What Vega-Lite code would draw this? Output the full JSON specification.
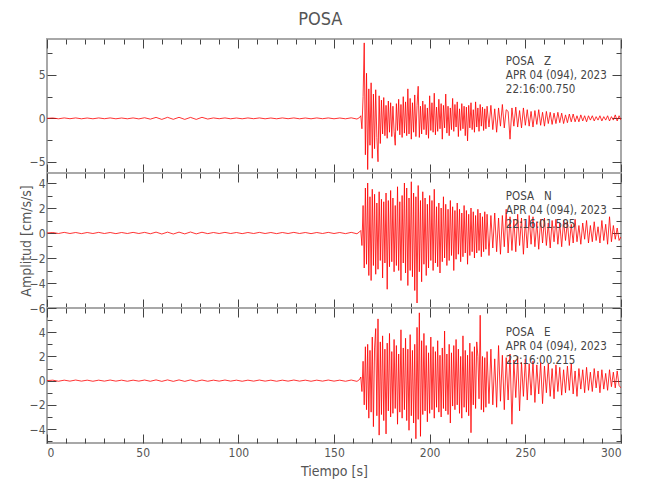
{
"$schema": "https://vega.github.io/schema/vega-lite/v6.json",
"padding": {"left": 18, "top": 10, "right": 5, "bottom": 5},
"background": "white",
"title": {"text": "POSA", "fontSize": 18, "font": "DejaVu Sans Condensed, Liberation Sans, sans-serif", "fontWeight": "normal", "color": "#555", "offset": 9, "anchor": "middle"},
"config": {
 "font": "DejaVu Sans Condensed, Liberation Sans, sans-serif",
 "view": {"stroke": "#a8a8a8", "strokeWidth": 2},
 "axis": {"domain": false, "grid": false, "labelFont": "DejaVu Sans Condensed, Liberation Sans, sans-serif", "labelFontSize": 12, "labelColor": "#555", "tickColor": "#444", "titleFont": "DejaVu Sans Condensed, Liberation Sans, sans-serif", "titleFontSize": 14, "titleFontWeight": "normal", "titleColor": "#555"}
},
"spacing": 0,
"bounds": "flush",
"datasets": {
"z": [
{"t":0,"a":0},{"t":3,"a":0.04},{"t":6,"a":-0.05},{"t":9,"a":0.05},{"t":12,"a":-0.04},{"t":15,"a":0.05},{"t":18,"a":-0.05},{"t":21,"a":0.04},{"t":24,"a":-0.05},{"t":27,"a":0.05},{"t":30,"a":-0.04},{"t":33,"a":0.05},{"t":36,"a":-0.05},{"t":39,"a":0.04},{"t":42,"a":-0.05},{"t":45,"a":0.05},{"t":48,"a":-0.06},{"t":51,"a":0.07},{"t":54,"a":-0.09},{"t":57,"a":0.11},{"t":60,"a":-0.12},{"t":63,"a":0.12},{"t":66,"a":-0.11},{"t":69,"a":0.12},{"t":72,"a":-0.12},{"t":75,"a":0.11},{"t":78,"a":-0.12},{"t":81,"a":0.12},{"t":84,"a":-0.08},{"t":87,"a":0.05},{"t":90,"a":-0.04},{"t":93,"a":0.05},{"t":96,"a":-0.05},{"t":99,"a":0.04},{"t":102,"a":-0.05},{"t":105,"a":0.05},{"t":108,"a":-0.04},{"t":111,"a":0.05},{"t":114,"a":-0.05},{"t":117,"a":0.04},{"t":120,"a":-0.05},{"t":123,"a":0.05},{"t":126,"a":-0.04},{"t":129,"a":0.05},{"t":132,"a":-0.05},{"t":135,"a":0.04},{"t":138,"a":-0.05},{"t":141,"a":0.05},{"t":144,"a":-0.04},{"t":147,"a":0.05},{"t":150,"a":-0.05},{"t":153,"a":0.04},{"t":156,"a":-0.05},{"t":159,"a":0.06},{"t":162,"a":-0.08},{"t":163.4,"a":0.1},
{"t":164.0,"a":0.3},{"t":164.6,"a":-1.2},{"t":165.2,"a":2.5},{"t":165.8,"a":8.7},{"t":166.4,"a":-4.2},{"t":167.0,"a":5.2},{"t":167.6,"a":-5.9},{"t":168.2,"a":3.4},{"t":168.8,"a":-3.1},{"t":169.4,"a":4.1},{"t":170.0,"a":-4.6},{"t":170.6,"a":2.8},{"t":171.2,"a":-3.5},{"t":171.8,"a":3.3},{"t":172.4,"a":-2.2},{"t":173.0,"a":-5.0},{"t":173.6,"a":2.6},{"t":174.2,"a":-2.9},{"t":174.8,"a":2.1},{"t":175.4,"a":-1.8},{"t":176.0,"a":2.4},{"t":176.6,"a":-2.0},{"t":177.2,"a":1.5},{"t":177.8,"a":-2.3},{"t":178.4,"a":2.0},{"t":179.0,"a":-1.6},{"t":179.6,"a":1.8},{"t":180.2,"a":-2.1},{"t":180.8,"a":1.4},{"t":181.4,"a":-1.5},{"t":182.0,"a":-3.1},{"t":182.6,"a":1.7},{"t":183.2,"a":-1.4},{"t":183.8,"a":2.2},{"t":184.4,"a":-1.9},{"t":185.0,"a":1.6},{"t":185.6,"a":-2.2},{"t":186.2,"a":2.5},{"t":186.8,"a":-1.7},{"t":187.4,"a":1.9},{"t":188.0,"a":-2.0},{"t":188.6,"a":3.4},{"t":189.2,"a":-1.8},{"t":189.8,"a":2.3},{"t":190.4,"a":-2.4},{"t":191.0,"a":1.8},{"t":191.6,"a":-1.6},{"t":192.2,"a":2.7},{"t":192.8,"a":-2.1},{"t":193.4,"a":1.5},{"t":194.0,"a":3.7},{"t":194.6,"a":-2.2},{"t":195.2,"a":1.4},{"t":195.8,"a":-1.8},{"t":196.4,"a":2.0},{"t":197.0,"a":-1.3},{"t":197.6,"a":1.6},{"t":198.2,"a":-1.9},{"t":198.8,"a":1.2},{"t":199.4,"a":-2.3},{"t":200.0,"a":2.6},{"t":200.6,"a":-1.4},{"t":201.2,"a":1.8},{"t":201.8,"a":-1.6},{"t":202.4,"a":2.9},{"t":203.0,"a":-1.9},{"t":203.6,"a":1.3},{"t":204.2,"a":-1.5},{"t":204.8,"a":2.2},{"t":205.4,"a":-1.2},{"t":206.0,"a":1.7},{"t":206.6,"a":-2.4},{"t":207.2,"a":1.5},{"t":207.8,"a":-1.1},{"t":208.4,"a":2.8},{"t":209.0,"a":-1.7},{"t":209.6,"a":1.4},{"t":210.2,"a":-2.0},{"t":210.8,"a":1.2},{"t":211.4,"a":-1.3},{"t":212.0,"a":2.3},{"t":212.6,"a":-1.5},{"t":213.2,"a":1.6},{"t":213.8,"a":-1.0},{"t":214.4,"a":1.9},{"t":215.0,"a":-2.1},{"t":215.6,"a":1.1},{"t":216.2,"a":-1.4},{"t":216.8,"a":1.7},{"t":217.4,"a":-1.2},{"t":218.0,"a":1.4},{"t":218.6,"a":-2.0},{"t":219.2,"a":1.3},{"t":219.8,"a":-2.6},{"t":220.4,"a":1.5},{"t":221.0,"a":-1.1},{"t":221.6,"a":1.8},{"t":222.2,"a":-1.3},{"t":222.8,"a":1.0},{"t":223.4,"a":-1.6},{"t":224.0,"a":1.9},{"t":224.6,"a":-1.0},{"t":225.2,"a":1.2},{"t":225.8,"a":-1.5},{"t":226.4,"a":1.6},{"t":227.0,"a":-0.9},{"t":227.6,"a":1.3},{"t":228.2,"a":-1.4},{"t":228.8,"a":1.1},{"t":229.4,"a":-1.2},{"t":230.0,"a":1.4},
{"t":231,"a":-1.0},{"t":232,"a":1.5},{"t":233,"a":-1.3},{"t":234,"a":1.1},{"t":235,"a":-1.6},{"t":236,"a":1.2},{"t":237,"a":-0.9},{"t":238,"a":1.6},{"t":239,"a":-1.1},{"t":240,"a":1.0},{"t":241,"a":0.8},{"t":242,"a":-2.4},{"t":243,"a":1.2},{"t":244,"a":-0.9},{"t":245,"a":1.3},{"t":246,"a":-1.0},{"t":247,"a":0.9},{"t":248,"a":-1.1},{"t":249,"a":1.2},{"t":250,"a":-0.8},{"t":251,"a":1.0},{"t":252,"a":-0.9},{"t":253,"a":0.8},{"t":254,"a":-1.0},{"t":255,"a":0.9},{"t":256,"a":-0.7},{"t":257,"a":1.0},{"t":258,"a":-0.8},{"t":259,"a":0.7},{"t":260,"a":-0.9},{"t":261,"a":0.8},{"t":262,"a":-0.6},{"t":263,"a":0.7},{"t":264,"a":-0.7},{"t":265,"a":0.6},{"t":266,"a":-0.6},{"t":267,"a":0.7},{"t":268,"a":-0.5},{"t":269,"a":0.6},{"t":270,"a":-0.6},{"t":271,"a":0.4},{"t":272,"a":-0.5},{"t":273,"a":0.5},{"t":274,"a":-0.4},{"t":275,"a":0.5},{"t":276,"a":-0.4},{"t":277,"a":0.3},{"t":278,"a":-0.4},{"t":279,"a":0.4},{"t":280,"a":-0.3},{"t":281,"a":0.3},{"t":282,"a":-0.4},{"t":283,"a":0.3},{"t":284,"a":-0.2},{"t":285,"a":0.3},{"t":286,"a":-0.3},{"t":287,"a":0.2},{"t":288,"a":-0.2},{"t":289,"a":0.3},{"t":290,"a":-0.3},{"t":291,"a":0.2},{"t":292,"a":-0.2},{"t":293,"a":0.3},{"t":294,"a":-0.3},{"t":295,"a":0.2},{"t":296,"a":-0.2},{"t":297,"a":0.4},{"t":298,"a":-0.3},{"t":299,"a":0.3},{"t":300,"a":-0.2}
],
"n": [
{"t":0,"a":0},{"t":3,"a":0.04},{"t":6,"a":-0.04},{"t":9,"a":0.05},{"t":12,"a":-0.04},{"t":15,"a":0.04},{"t":18,"a":-0.05},{"t":21,"a":0.04},{"t":24,"a":-0.04},{"t":27,"a":0.05},{"t":30,"a":-0.04},{"t":33,"a":0.04},{"t":36,"a":-0.05},{"t":39,"a":0.04},{"t":42,"a":-0.04},{"t":45,"a":0.05},{"t":48,"a":-0.04},{"t":51,"a":0.05},{"t":54,"a":-0.06},{"t":57,"a":0.07},{"t":60,"a":-0.08},{"t":63,"a":0.07},{"t":66,"a":-0.08},{"t":69,"a":0.07},{"t":72,"a":-0.07},{"t":75,"a":0.08},{"t":78,"a":-0.07},{"t":81,"a":0.06},{"t":84,"a":-0.05},{"t":87,"a":0.04},{"t":90,"a":-0.04},{"t":93,"a":0.05},{"t":96,"a":-0.04},{"t":99,"a":0.04},{"t":102,"a":-0.05},{"t":105,"a":0.04},{"t":108,"a":-0.04},{"t":111,"a":0.05},{"t":114,"a":-0.04},{"t":117,"a":0.04},{"t":120,"a":-0.05},{"t":123,"a":0.04},{"t":126,"a":-0.04},{"t":129,"a":0.05},{"t":132,"a":-0.04},{"t":135,"a":0.04},{"t":138,"a":-0.05},{"t":141,"a":0.04},{"t":144,"a":-0.04},{"t":147,"a":0.05},{"t":150,"a":-0.04},{"t":153,"a":0.04},{"t":156,"a":-0.05},{"t":159,"a":0.05},{"t":162,"a":-0.06},{"t":163.4,"a":0.1},
{"t":164.0,"a":0.2},{"t":164.6,"a":-1.0},{"t":165.2,"a":2.2},{"t":165.8,"a":-2.8},{"t":166.4,"a":3.6},{"t":167.0,"a":-2.5},{"t":167.6,"a":4.0},{"t":168.2,"a":-3.4},{"t":168.8,"a":2.9},{"t":169.4,"a":-3.8},{"t":170.0,"a":3.5},{"t":170.6,"a":-2.6},{"t":171.2,"a":3.1},{"t":171.8,"a":-3.3},{"t":172.4,"a":2.4},{"t":173.0,"a":-2.9},{"t":173.6,"a":3.3},{"t":174.2,"a":-2.2},{"t":174.8,"a":2.7},{"t":175.4,"a":-3.6},{"t":176.0,"a":2.5},{"t":176.6,"a":-2.4},{"t":177.2,"a":3.2},{"t":177.8,"a":-4.5},{"t":178.4,"a":2.6},{"t":179.0,"a":-2.7},{"t":179.6,"a":3.4},{"t":180.2,"a":-2.3},{"t":180.8,"a":2.8},{"t":181.4,"a":-3.1},{"t":182.0,"a":2.2},{"t":182.6,"a":-2.6},{"t":183.2,"a":3.7},{"t":183.8,"a":-3.0},{"t":184.4,"a":2.5},{"t":185.0,"a":-3.8},{"t":185.6,"a":3.0},{"t":186.2,"a":-2.4},{"t":186.8,"a":4.0},{"t":187.4,"a":-3.2},{"t":188.0,"a":3.6},{"t":188.6,"a":-4.2},{"t":189.2,"a":2.8},{"t":189.8,"a":-3.0},{"t":190.4,"a":4.1},{"t":191.0,"a":-3.5},{"t":191.6,"a":3.2},{"t":192.2,"a":-4.6},{"t":192.8,"a":2.9},{"t":193.4,"a":-5.6},{"t":194.0,"a":3.8},{"t":194.6,"a":-3.1},{"t":195.2,"a":2.6},{"t":195.8,"a":-3.9},{"t":196.4,"a":3.3},{"t":197.0,"a":-2.5},{"t":197.6,"a":2.8},{"t":198.2,"a":-3.4},{"t":198.8,"a":2.3},{"t":199.4,"a":-2.8},{"t":200.0,"a":3.0},{"t":200.6,"a":-2.2},{"t":201.2,"a":2.6},{"t":201.8,"a":-3.0},{"t":202.4,"a":3.5},{"t":203.0,"a":-2.4},{"t":203.6,"a":2.1},{"t":204.2,"a":-2.7},{"t":204.8,"a":2.4},{"t":205.4,"a":-3.2},{"t":206.0,"a":2.0},{"t":206.6,"a":-2.3},{"t":207.2,"a":2.9},{"t":207.8,"a":-2.0},{"t":208.4,"a":2.3},{"t":209.0,"a":-2.6},{"t":209.6,"a":1.9},{"t":210.2,"a":-2.2},{"t":210.8,"a":2.6},{"t":211.4,"a":-1.8},{"t":212.0,"a":2.1},{"t":212.6,"a":-3.0},{"t":213.2,"a":1.8},{"t":213.8,"a":-2.1},{"t":214.4,"a":2.4},{"t":215.0,"a":-1.7},{"t":215.6,"a":1.9},{"t":216.2,"a":-2.3},{"t":216.8,"a":1.6},{"t":217.4,"a":-1.9},{"t":218.0,"a":2.2},{"t":218.6,"a":-1.6},{"t":219.2,"a":1.8},{"t":219.8,"a":-2.5},{"t":220.4,"a":1.5},{"t":221.0,"a":-1.8},{"t":221.6,"a":2.0},{"t":222.2,"a":-1.5},{"t":222.8,"a":1.7},{"t":223.4,"a":-2.0},{"t":224.0,"a":1.4},{"t":224.6,"a":-1.6},{"t":225.2,"a":1.9},{"t":225.8,"a":-1.4},{"t":226.4,"a":1.6},{"t":227.0,"a":-1.9},{"t":227.6,"a":1.3},{"t":228.2,"a":-1.5},{"t":228.8,"a":1.7},{"t":229.4,"a":-1.3},{"t":230.0,"a":1.5},
{"t":231,"a":-1.8},{"t":232,"a":1.4},{"t":233,"a":-1.2},{"t":234,"a":1.6},{"t":235,"a":-1.5},{"t":236,"a":1.2},{"t":237,"a":-1.7},{"t":238,"a":1.4},{"t":239,"a":-1.1},{"t":240,"a":1.9},{"t":241,"a":-1.6},{"t":242,"a":1.3},{"t":243,"a":-1.4},{"t":244,"a":1.1},{"t":245,"a":-1.5},{"t":246,"a":1.5},{"t":247,"a":-1.0},{"t":248,"a":1.2},{"t":249,"a":-1.7},{"t":250,"a":1.0},{"t":251,"a":-1.2},{"t":252,"a":1.4},{"t":253,"a":-0.9},{"t":254,"a":1.3},{"t":255,"a":-1.1},{"t":256,"a":0.9},{"t":257,"a":-1.3},{"t":258,"a":1.1},{"t":259,"a":-0.8},{"t":260,"a":1.2},{"t":261,"a":-1.0},{"t":262,"a":0.8},{"t":263,"a":-1.2},{"t":264,"a":1.0},{"t":265,"a":-0.7},{"t":266,"a":1.1},{"t":267,"a":-0.9},{"t":268,"a":0.8},{"t":269,"a":-1.1},{"t":270,"a":1.0},{"t":271,"a":-0.6},{"t":272,"a":0.9},{"t":273,"a":-1.0},{"t":274,"a":0.7},{"t":275,"a":-0.8},{"t":276,"a":1.1},{"t":277,"a":-0.7},{"t":278,"a":0.6},{"t":279,"a":-0.9},{"t":280,"a":0.8},{"t":281,"a":-0.5},{"t":282,"a":1.0},{"t":283,"a":-0.8},{"t":284,"a":0.6},{"t":285,"a":-0.7},{"t":286,"a":0.9},{"t":287,"a":-0.6},{"t":288,"a":0.5},{"t":289,"a":-0.8},{"t":290,"a":1.0},{"t":291,"a":-0.6},{"t":292,"a":0.7},{"t":293,"a":-0.9},{"t":294,"a":1.3},{"t":295,"a":-0.7},{"t":296,"a":0.6},{"t":297,"a":-0.5},{"t":298,"a":0.4},{"t":299,"a":-0.6},{"t":300,"a":-0.3}
],
"e": [
{"t":0,"a":0},{"t":3,"a":0.04},{"t":6,"a":-0.05},{"t":9,"a":0.04},{"t":12,"a":-0.04},{"t":15,"a":0.05},{"t":18,"a":-0.04},{"t":21,"a":0.04},{"t":24,"a":-0.05},{"t":27,"a":0.04},{"t":30,"a":-0.04},{"t":33,"a":0.05},{"t":36,"a":-0.04},{"t":39,"a":0.04},{"t":42,"a":-0.05},{"t":45,"a":0.04},{"t":48,"a":-0.04},{"t":51,"a":0.05},{"t":54,"a":-0.05},{"t":57,"a":0.06},{"t":60,"a":-0.06},{"t":63,"a":0.06},{"t":66,"a":-0.06},{"t":69,"a":0.06},{"t":72,"a":-0.06},{"t":75,"a":0.06},{"t":78,"a":-0.06},{"t":81,"a":0.05},{"t":84,"a":-0.05},{"t":87,"a":0.04},{"t":90,"a":-0.04},{"t":93,"a":0.05},{"t":96,"a":-0.04},{"t":99,"a":0.04},{"t":102,"a":-0.05},{"t":105,"a":0.04},{"t":108,"a":-0.04},{"t":111,"a":0.05},{"t":114,"a":-0.04},{"t":117,"a":0.04},{"t":120,"a":-0.05},{"t":123,"a":0.04},{"t":126,"a":-0.04},{"t":129,"a":0.05},{"t":132,"a":-0.04},{"t":135,"a":0.04},{"t":138,"a":-0.05},{"t":141,"a":0.04},{"t":144,"a":-0.04},{"t":147,"a":0.05},{"t":150,"a":-0.04},{"t":153,"a":0.04},{"t":156,"a":-0.05},{"t":159,"a":0.05},{"t":162,"a":-0.06},{"t":163.4,"a":0.1},
{"t":164.0,"a":0.3},{"t":164.6,"a":-0.9},{"t":165.2,"a":1.6},{"t":165.8,"a":-2.0},{"t":166.4,"a":2.8},{"t":167.0,"a":-2.4},{"t":167.6,"a":3.0},{"t":168.2,"a":-3.1},{"t":168.8,"a":2.5},{"t":169.4,"a":-2.6},{"t":170.0,"a":3.6},{"t":170.6,"a":-3.8},{"t":171.2,"a":2.7},{"t":171.8,"a":4.3},{"t":172.4,"a":-2.9},{"t":173.0,"a":5.1},{"t":173.6,"a":-4.5},{"t":174.2,"a":3.2},{"t":174.8,"a":-2.8},{"t":175.4,"a":3.7},{"t":176.0,"a":-3.3},{"t":176.6,"a":2.6},{"t":177.2,"a":-4.4},{"t":177.8,"a":3.1},{"t":178.4,"a":-2.5},{"t":179.0,"a":3.9},{"t":179.6,"a":-3.0},{"t":180.2,"a":2.4},{"t":180.8,"a":-2.7},{"t":181.4,"a":3.4},{"t":182.0,"a":-2.3},{"t":182.6,"a":2.9},{"t":183.2,"a":-3.6},{"t":183.8,"a":2.2},{"t":184.4,"a":-2.6},{"t":185.0,"a":4.2},{"t":185.6,"a":-3.1},{"t":186.2,"a":2.7},{"t":186.8,"a":-2.4},{"t":187.4,"a":3.5},{"t":188.0,"a":-3.3},{"t":188.6,"a":2.6},{"t":189.2,"a":-4.1},{"t":189.8,"a":3.8},{"t":190.4,"a":-2.9},{"t":191.0,"a":2.5},{"t":191.6,"a":-3.5},{"t":192.2,"a":3.0},{"t":192.8,"a":-4.8},{"t":193.4,"a":4.4},{"t":194.0,"a":-3.2},{"t":194.6,"a":5.6},{"t":195.2,"a":-4.6},{"t":195.8,"a":3.3},{"t":196.4,"a":-2.8},{"t":197.0,"a":3.9},{"t":197.6,"a":-2.5},{"t":198.2,"a":2.9},{"t":198.8,"a":-3.4},{"t":199.4,"a":2.3},{"t":200.0,"a":-2.7},{"t":200.6,"a":3.6},{"t":201.2,"a":-2.4},{"t":201.8,"a":2.8},{"t":202.4,"a":-3.1},{"t":203.0,"a":2.4},{"t":203.6,"a":-2.2},{"t":204.2,"a":3.3},{"t":204.8,"a":-2.6},{"t":205.4,"a":2.1},{"t":206.0,"a":-3.0},{"t":206.6,"a":2.7},{"t":207.2,"a":-2.3},{"t":207.8,"a":4.1},{"t":208.4,"a":-2.5},{"t":209.0,"a":2.2},{"t":209.6,"a":-2.8},{"t":210.2,"a":3.0},{"t":210.8,"a":-3.5},{"t":211.4,"a":2.3},{"t":212.0,"a":-2.1},{"t":212.6,"a":2.9},{"t":213.2,"a":-2.4},{"t":213.8,"a":3.4},{"t":214.4,"a":-2.0},{"t":215.0,"a":2.6},{"t":215.6,"a":-2.7},{"t":216.2,"a":2.0},{"t":216.8,"a":-3.1},{"t":217.4,"a":3.7},{"t":218.0,"a":-2.2},{"t":218.6,"a":2.5},{"t":219.2,"a":-2.6},{"t":219.8,"a":2.1},{"t":220.4,"a":-2.9},{"t":221.0,"a":3.1},{"t":221.6,"a":-4.3},{"t":222.2,"a":2.4},{"t":222.8,"a":-2.0},{"t":223.4,"a":2.8},{"t":224.0,"a":-2.3},{"t":224.6,"a":3.2},{"t":225.2,"a":2.0},{"t":225.8,"a":-1.5},{"t":226.4,"a":5.4},{"t":227.0,"a":-2.4},{"t":227.6,"a":2.0},{"t":228.2,"a":-2.6},{"t":228.8,"a":1.9},{"t":229.4,"a":-2.2},{"t":230.0,"a":2.4},
{"t":231,"a":-1.9},{"t":232,"a":2.6},{"t":233,"a":-2.0},{"t":234,"a":1.8},{"t":235,"a":-2.2},{"t":236,"a":2.9},{"t":237,"a":-1.7},{"t":238,"a":2.1},{"t":239,"a":-2.4},{"t":240,"a":1.9},{"t":241,"a":-1.6},{"t":242,"a":2.2},{"t":243,"a":-3.6},{"t":244,"a":1.7},{"t":245,"a":-1.4},{"t":246,"a":2.0},{"t":247,"a":-2.5},{"t":248,"a":1.5},{"t":249,"a":-1.3},{"t":250,"a":1.8},{"t":251,"a":-1.6},{"t":252,"a":1.4},{"t":253,"a":-1.2},{"t":254,"a":1.6},{"t":255,"a":-1.8},{"t":256,"a":1.3},{"t":257,"a":-1.1},{"t":258,"a":1.5},{"t":259,"a":-1.9},{"t":260,"a":1.2},{"t":261,"a":-1.0},{"t":262,"a":1.4},{"t":263,"a":-1.3},{"t":264,"a":1.0},{"t":265,"a":-1.5},{"t":266,"a":1.3},{"t":267,"a":-0.9},{"t":268,"a":1.1},{"t":269,"a":-1.2},{"t":270,"a":0.9},{"t":271,"a":-1.0},{"t":272,"a":1.2},{"t":273,"a":-0.8},{"t":274,"a":1.4},{"t":275,"a":-1.1},{"t":276,"a":0.8},{"t":277,"a":-1.3},{"t":278,"a":1.0},{"t":279,"a":-0.7},{"t":280,"a":0.9},{"t":281,"a":-1.0},{"t":282,"a":1.1},{"t":283,"a":-0.8},{"t":284,"a":0.7},{"t":285,"a":-0.9},{"t":286,"a":1.0},{"t":287,"a":-0.6},{"t":288,"a":0.8},{"t":289,"a":-1.0},{"t":290,"a":0.9},{"t":291,"a":-0.7},{"t":292,"a":0.6},{"t":293,"a":-0.8},{"t":294,"a":0.9},{"t":295,"a":-0.5},{"t":296,"a":0.7},{"t":297,"a":-0.6},{"t":298,"a":0.8},{"t":299,"a":-0.4},{"t":300,"a":-0.6}
]
},
"vconcat": [
{
 "width": 574, "height": 134,
 "layer": [
  {"data": {"name": "z"},
   "mark": {"type": "line", "color": "#ff0000", "strokeWidth": 0.8, "clip": true},
   "encoding": {
    "x": {"field": "t", "type": "quantitative", "scale": {"domain": [0, 300], "nice": false, "zero": false},
          "axis": {"orient": "bottom", "title": null, "labels": false, "values": [0,10,20,30,40,50,60,70,80,90,100,110,120,130,140,150,160,170,180,190,200,210,220,230,240,250,260,270,280,290,300], "tickSize": {"condition": {"test": "datum.value % 50 === 0", "value": -9}, "value": -5}}},
    "y": {"field": "a", "type": "quantitative", "scale": {"domain": [-6.3, 9.15], "nice": false, "zero": false},
          "axis": {"orient": "left", "title": null, "values": [-5,-2.5,0,2.5,5,7.5], "labelExpr": "datum.value % 5 === 0 ? datum.label : ''", "labelPadding": 11, "tickSize": {"condition": {"test": "datum.value % 5 === 0", "value": -9}, "value": -5}}}
   }},
  {"data": {"values": [{"t": 0, "a": 0}]},
   "mark": {"type": "point", "opacity": 0},
   "encoding": {
    "x": {"field": "t", "type": "quantitative", "axis": {"orient": "top", "title": null, "labels": false, "values": [0,10,20,30,40,50,60,70,80,90,100,110,120,130,140,150,160,170,180,190,200,210,220,230,240,250,260,270,280,290,300], "tickSize": {"condition": {"test": "datum.value % 50 === 0", "value": -9}, "value": -5}}},
    "y": {"field": "a", "type": "quantitative", "axis": {"orient": "right", "title": null, "labels": false, "values": [-5,-2.5,0,2.5,5,7.5], "tickSize": {"condition": {"test": "datum.value % 5 === 0", "value": -9}, "value": -5}}}
   }},
  {"data": {"values": [{}]},
   "mark": {"type": "text", "align": "left", "baseline": "alphabetic", "fontSize": 11.5, "lineHeight": 14, "color": "#444"},
   "encoding": {"x": {"datum": 239.8, "type": "quantitative", "axis": null}, "y": {"datum": 6.15, "type": "quantitative", "axis": null}, "text": {"value": ["POSA\u00a0\u00a0\u00a0Z", "APR 04 (094), 2023", "22:16:00.750"]}}}
 ],
 "resolve": {"axis": {"x": "independent", "y": "independent"}}
},
{
 "width": 574, "height": 135,
 "layer": [
  {"data": {"name": "n"},
   "mark": {"type": "line", "color": "#ff0000", "strokeWidth": 0.8, "clip": true},
   "encoding": {
    "x": {"field": "t", "type": "quantitative", "scale": {"domain": [0, 300], "nice": false, "zero": false},
          "axis": {"orient": "bottom", "title": null, "labels": false, "values": [0,10,20,30,40,50,60,70,80,90,100,110,120,130,140,150,160,170,180,190,200,210,220,230,240,250,260,270,280,290,300], "tickSize": {"condition": {"test": "datum.value % 50 === 0", "value": -9}, "value": -5}}},
    "y": {"field": "a", "type": "quantitative", "scale": {"domain": [-6, 4.8], "nice": false, "zero": false},
          "axis": {"orient": "left", "title": "Amplitud [cm/s/s]", "titlePadding": -4, "values": [-6,-5,-4,-3,-2,-1,0,1,2,3,4], "labelExpr": "datum.value % 2 === 0 ? datum.label : ''", "labelPadding": 11, "tickSize": {"condition": {"test": "datum.value % 2 === 0", "value": -9}, "value": -5}}}
   }},
  {"data": {"values": [{"t": 0, "a": 0}]},
   "mark": {"type": "point", "opacity": 0},
   "encoding": {
    "x": {"field": "t", "type": "quantitative", "axis": {"orient": "top", "title": null, "labels": false, "values": [0,10,20,30,40,50,60,70,80,90,100,110,120,130,140,150,160,170,180,190,200,210,220,230,240,250,260,270,280,290,300], "tickSize": {"condition": {"test": "datum.value % 50 === 0", "value": -9}, "value": -5}}},
    "y": {"field": "a", "type": "quantitative", "axis": {"orient": "right", "title": null, "labels": false, "values": [-6,-5,-4,-3,-2,-1,0,1,2,3,4], "tickSize": {"condition": {"test": "datum.value % 2 === 0", "value": -9}, "value": -5}}}
   }},
  {"data": {"values": [{}]},
   "mark": {"type": "text", "align": "left", "baseline": "alphabetic", "fontSize": 11.5, "lineHeight": 14, "color": "#444"},
   "encoding": {"x": {"datum": 239.8, "type": "quantitative", "axis": null}, "y": {"datum": 2.66, "type": "quantitative", "axis": null}, "text": {"value": ["POSA\u00a0\u00a0\u00a0N", "APR 04 (094), 2023", "22:16:01.585"]}}}
 ],
 "resolve": {"axis": {"x": "independent", "y": "independent"}}
},
{
 "width": 574, "height": 135,
 "layer": [
  {"data": {"name": "e"},
   "mark": {"type": "line", "color": "#ff0000", "strokeWidth": 0.8, "clip": true},
   "encoding": {
    "x": {"field": "t", "type": "quantitative", "scale": {"domain": [0, 300], "nice": false, "zero": false},
          "axis": {"orient": "bottom", "title": "Tiempo [s]", "titlePadding": 6, "labelPadding": 13, "values": [0,10,20,30,40,50,60,70,80,90,100,110,120,130,140,150,160,170,180,190,200,210,220,230,240,250,260,270,280,290,300], "labelExpr": "datum.value % 50 === 0 ? datum.label : ''", "tickSize": {"condition": {"test": "datum.value % 50 === 0", "value": -9}, "value": -5}}},
    "y": {"field": "a", "type": "quantitative", "scale": {"domain": [-5.15, 6], "nice": false, "zero": false},
          "axis": {"orient": "left", "title": null, "values": [-5,-4,-3,-2,-1,0,1,2,3,4,5,6], "labelExpr": "datum.value % 2 === 0 && datum.value < 6 ? datum.label : ''", "labelPadding": 11, "tickSize": {"condition": {"test": "datum.value % 2 === 0", "value": -9}, "value": -5}}}
   }},
  {"data": {"values": [{"t": 0, "a": 0}]},
   "mark": {"type": "point", "opacity": 0},
   "encoding": {
    "x": {"field": "t", "type": "quantitative", "axis": {"orient": "top", "title": null, "labels": false, "values": [0,10,20,30,40,50,60,70,80,90,100,110,120,130,140,150,160,170,180,190,200,210,220,230,240,250,260,270,280,290,300], "tickSize": {"condition": {"test": "datum.value % 50 === 0", "value": -9}, "value": -5}}},
    "y": {"field": "a", "type": "quantitative", "axis": {"orient": "right", "title": null, "labels": false, "values": [-5,-4,-3,-2,-1,0,1,2,3,4,5,6], "tickSize": {"condition": {"test": "datum.value % 2 === 0", "value": -9}, "value": -5}}}
   }},
  {"data": {"values": [{}]},
   "mark": {"type": "text", "align": "left", "baseline": "alphabetic", "fontSize": 11.5, "lineHeight": 14, "color": "#444"},
   "encoding": {"x": {"datum": 239.8, "type": "quantitative", "axis": null}, "y": {"datum": 3.67, "type": "quantitative", "axis": null}, "text": {"value": ["POSA\u00a0\u00a0\u00a0E", "APR 04 (094), 2023", "22:16:00.215"]}}}
 ],
 "resolve": {"axis": {"x": "independent", "y": "independent"}}
}
]
}
